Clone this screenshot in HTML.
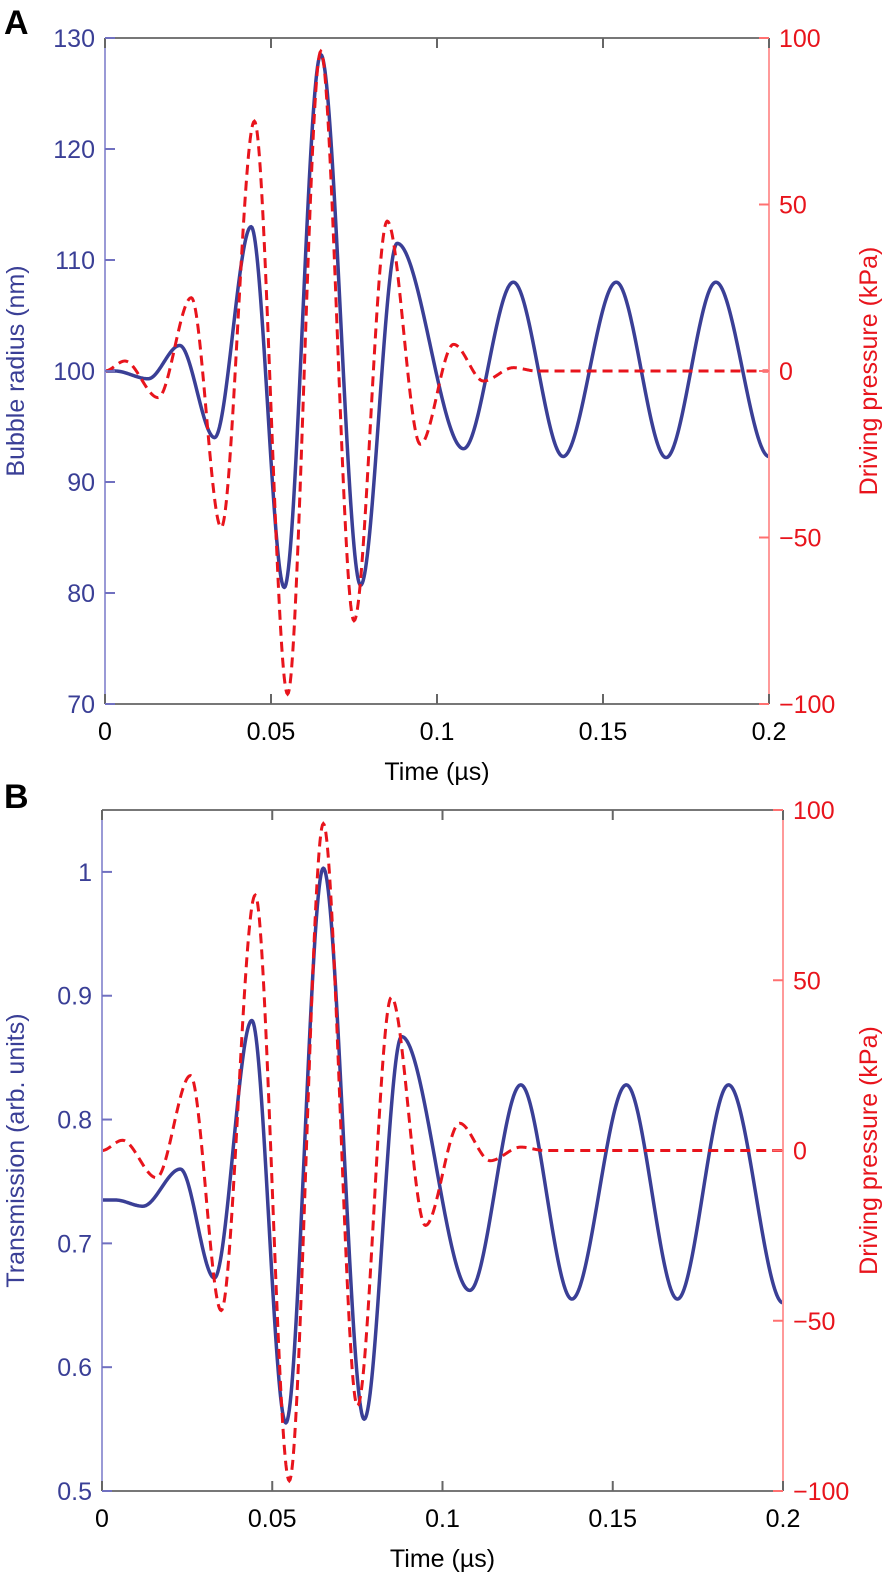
<!DOCTYPE html>
<html><head><meta charset="utf-8"><style>
html,body{margin:0;padding:0;background:#fff;}
svg{display:block;font-family:"Liberation Sans",sans-serif;}
</style></head><body>
<svg id="fig" width="888" height="1575" viewBox="0 0 888 1575"></svg>
<script>
// Shared time axis ticks
const xTicks = [0, 0.05, 0.1, 0.15, 0.2];
const xTickLabels = ["0", "0.05", "0.1", "0.15", "0.2"];
// Driving pressure extrema (time µs, kPa)
const pressureT = [0, 0.006, 0.016, 0.026, 0.035, 0.045, 0.055, 0.065, 0.075, 0.085, 0.095, 0.105, 0.114, 0.123, 0.13, 0.2];
const pressureV = [0, 3, -8, 22, -47, 75, -97, 96, -75, 45, -22, 8, -3, 1, 0, 0];
// Bubble radius extrema (nm)
const radiusT = [0, 0.003, 0.013, 0.0225, 0.033, 0.044, 0.054, 0.065, 0.077, 0.088, 0.108, 0.123, 0.138, 0.154, 0.169, 0.184, 0.2];
const radiusV = [100, 100, 99.3, 102.3, 94, 113, 80.5, 128.5, 80.7, 111.5, 93, 108, 92.3, 108, 92.2, 108, 92.3];
// Transmission extrema (arb. units)
const transT = [0, 0.004, 0.012, 0.023, 0.033, 0.044, 0.054, 0.065, 0.077, 0.088, 0.108, 0.123, 0.138, 0.154, 0.169, 0.184, 0.2];
const transV = [0.735, 0.735, 0.73, 0.76, 0.672, 0.88, 0.555, 1.003, 0.558, 0.867, 0.662, 0.828, 0.655, 0.828, 0.655, 0.828, 0.652];
const pTicks = [-100, -50, 0, 50, 100];
const pTickLabels = ["\u2212100", "\u221250", "0", "50", "100"];
const rTicks = [70, 80, 90, 100, 110, 120, 130];
const rTickLabels = ["70", "80", "90", "100", "110", "120", "130"];
const tTicks = [0.5, 0.6, 0.7, 0.8, 0.9, 1.0];
const tTickLabels = ["0.5", "0.6", "0.7", "0.8", "0.9", "1"];

const NS = "http://www.w3.org/2000/svg";
const svg = document.getElementById("fig");
const BLUE = "#3a3f96", RED = "#e8141c";
function mk(tag, attrs, parent) {
  const e = document.createElementNS(NS, tag);
  for (const k in attrs) e.setAttribute(k, attrs[k]);
  (parent || svg).appendChild(e);
  return e;
}
function interp(T, V, t) {
  for (let i = 0; i < T.length - 1; i++) {
    if (t >= T[i] && t <= T[i + 1]) {
      const s = (t - T[i]) / (T[i + 1] - T[i]);
      const h = 3 * s * s - 2 * s * s * s;
      return V[i] + (V[i + 1] - V[i]) * h;
    }
  }
  return V[V.length - 1];
}
function panel(cfg) {
  const g = mk("g", {});
  
  
  const {L, R, T, B} = cfg;
  const xs = t => L + (t - 0) / 0.2 * (R - L);
  const yl = v => B - (v - cfg.lmin) / (cfg.lmax - cfg.lmin) * (B - T);
  const yr = v => B - (v + 100) / 200 * (B - T);
  function path(Tarr, Varr, ys) {
    let d = "";
    for (let i = 0; i <= 800; i++) {
      const t = 0.2 * i / 800;
      d += (i ? "L" : "M") + xs(t).toFixed(2) + "," + ys(interp(Tarr, Varr, t)).toFixed(2);
    }
    return d;
  }
  const blue = mk("path", {d: path(cfg.lT, cfg.lV, yl), fill: "none", stroke: BLUE, "stroke-width": 3.5, "stroke-linejoin": "round"}, g);
  
  
  const red = mk("path", {d: path(pressureT, pressureV, yr), fill: "none", stroke: RED, "stroke-width": 3, "stroke-dasharray": "10,6"}, g);
  
  
  mk("line", {x1: L, y1: T, x2: R, y2: T, stroke: "#777", "stroke-width": 2}, g);
  mk("line", {x1: L, y1: B, x2: R, y2: B, stroke: "#777", "stroke-width": 2}, g);
  mk("line", {x1: L, y1: T, x2: L, y2: B, stroke: "#9a9ad6", "stroke-width": 2}, g);
  mk("line", {x1: R, y1: T, x2: R, y2: B, stroke: "#ff9a9a", "stroke-width": 2}, g);
  xTicks.forEach((v, i) => {
    const x = xs(v);
    mk("line", {x1: x, y1: B, x2: x, y2: B - 10, stroke: "#666", "stroke-width": 2}, g);
    mk("line", {x1: x, y1: T, x2: x, y2: T + 10, stroke: "#666", "stroke-width": 2}, g);
    const tx = mk("text", {x: x, y: B + 36, "text-anchor": "middle", "font-size": 25, fill: "#000"}, g);
    tx.textContent = xTickLabels[i];
    
    
  });
  cfg.lTicks.forEach((v, i) => {
    const y = yl(v);
    mk("line", {x1: L, y1: y, x2: L + 10, y2: y, stroke: "#7070c0", "stroke-width": 2}, g);
    const tx = mk("text", {x: L - 10, y: y + 9, "text-anchor": "end", "font-size": 25, fill: BLUE}, g);
    tx.textContent = cfg.lLabels[i];
    
    
  });
  pTicks.forEach((v, i) => {
    const y = yr(v);
    mk("line", {x1: R, y1: y, x2: R - 10, y2: y, stroke: "#ff7070", "stroke-width": 2}, g);
    const tx = mk("text", {x: R + 10, y: y + 9, "text-anchor": "start", "font-size": 25, fill: RED}, g);
    tx.textContent = pTickLabels[i];
    
    
  });
  const xt = mk("text", {x: (L + R) / 2, y: B + 76, "text-anchor": "middle", "font-size": 25, fill: "#000"}, g);
  xt.textContent = "Time (\u00b5s)";
  
  
  const ly = mk("text", {x: 0, y: 0, transform: `translate(24,${(T + B) / 2}) rotate(-90)`, "text-anchor": "middle", "font-size": 25, fill: BLUE}, g);
  ly.textContent = cfg.lTitle;
  
  
  const ry = mk("text", {x: 0, y: 0, transform: `translate(877,${(T + B) / 2}) rotate(-90)`, "text-anchor": "middle", "font-size": 25, fill: RED}, g);
  ry.textContent = "Driving pressure (kPa)";
  
  
  const pl = mk("text", {x: 4, y: cfg.labelY, "font-size": 34, "font-weight": "bold", fill: "#000"}, g);
  pl.textContent = cfg.letter;
  
  
}
panel({name: "panel-a", L: 105, R: 769, T: 38, B: 704, lmin: 70, lmax: 130, lT: radiusT, lV: radiusV,
  lTicks: rTicks, lLabels: rTickLabels, lTitle: "Bubble radius (nm)", lName: "bubble-radius", letter: "A", labelY: 34});
panel({name: "panel-b", L: 102, R: 783, T: 810, B: 1491, lmin: 0.5, lmax: 1.05, lT: transT, lV: transV,
  lTicks: tTicks, lLabels: tTickLabels, lTitle: "Transmission (arb. units)", lName: "transmission", letter: "B", labelY: 808});
</script>
</body></html>
